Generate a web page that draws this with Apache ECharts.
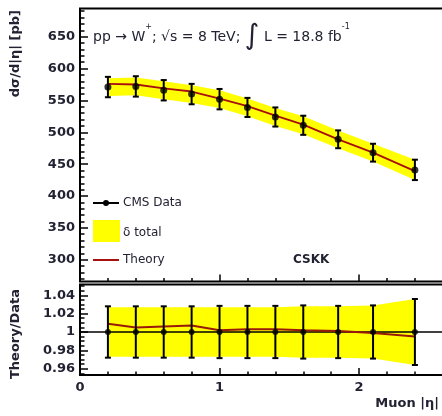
<!DOCTYPE html>
<html><head><meta charset="utf-8">
<script src="https://cdn.jsdelivr.net/npm/echarts@6/dist/echarts.min.js"></script>
<style>html,body{margin:0;padding:0;background:#fff}#c{width:442px;height:416px}</style>
</head><body><div id="c"></div>
<script>
// ---- data ----
const etaBins      = [0.2, 0.4, 0.6, 0.8, 1.0, 1.2, 1.4, 1.6, 1.85, 2.1, 2.4];
const dataXsec     = [571, 572, 566, 560, 552, 539, 524, 511, 489, 468, 441];
const dataErr      = [16, 16, 16, 16, 16, 15, 15, 15, 14, 14, 16];
const bandErr      = [14, 14, 14, 14, 14, 14, 14, 14, 14, 14, 16];
const theoryXsec   = [576, 575, 569, 564, 553, 541, 526, 512, 489, 468, 439];
const ratioData    = [1, 1, 1, 1, 1, 1, 1, 1, 1, 1, 1];
const ratioErr     = [0.028, 0.028, 0.028, 0.028, 0.0285, 0.0285, 0.0285, 0.029, 0.0285, 0.029, 0.036];
const ratioBandErr = [0.027, 0.027, 0.027, 0.027, 0.027, 0.027, 0.027, 0.028, 0.028, 0.029, 0.036];
const theoryRatio  = [1.009, 1.005, 1.006, 1.007, 1.002, 1.003, 1.003, 1.002, 1.001, 0.999, 0.995];
const unityLineX   = [0, 2.63];

const yMajorTicks = [300, 350, 400, 450, 500, 550, 600, 650];
const yMinorTicks = [270, 280, 290, 310, 320, 330, 340, 360, 370, 380, 390, 410, 420, 430, 440,
                     460, 470, 480, 490, 510, 520, 530, 540, 560, 570, 580, 590, 610, 620, 630, 640,
                     660, 670, 680, 690];
const rMajorTicks = [0.96, 0.98, 1, 1.02, 1.04];
const rMinorTicks = [0.955, 0.965, 0.97, 0.975, 0.985, 0.99, 0.995, 1.005, 1.01, 1.015,
                     1.025, 1.03, 1.035, 1.045, 1.05];
const xMajorTicks = [0, 1, 2];
const xMinorTicks = [0.2, 0.4, 0.6, 0.8, 1.2, 1.4, 1.6, 1.8, 2.2, 2.4, 2.6];

// ---- chart ----
const FONT = 'DejaVu Sans';
const TXT = '#222233';
const chart = echarts.init(document.getElementById('c'), null, {renderer: 'canvas'});

function bandRender(xs, ys, es, color) {
  return function (params, api) {
    if (params.dataIndex !== 0) return null;
    const pts = [];
    for (let i = 0; i < xs.length; i++) pts.push(api.coord([xs[i], ys[i] + es[i]]));
    for (let i = xs.length - 1; i >= 0; i--) pts.push(api.coord([xs[i], ys[i] - es[i]]));
    return {type: 'polygon', shape: {points: pts}, style: {fill: color}, silent: true};
  };
}
function errRender(params, api) {
  const x = api.value(0), y = api.value(1), e = api.value(2);
  const t = api.coord([x, y + e]), b = api.coord([x, y - e]);
  const w = 3, st = {stroke: '#000', lineWidth: 2};
  return {type: 'group', children: [
    {type: 'line', shape: {x1: t[0], y1: t[1], x2: b[0], y2: b[1]}, style: st},
    {type: 'line', shape: {x1: t[0] - w, y1: t[1], x2: t[0] + w, y2: t[1]}, style: st},
    {type: 'line', shape: {x1: b[0] - w, y1: b[1], x2: b[0] + w, y2: b[1]}, style: st}
  ]};
}

const gridBorder = {show: true, borderColor: '#000', borderWidth: 2, backgroundColor: 'transparent',
                    outerBoundsMode: 'none', containLabel: false};
const X_MAX = 2.63;
function xAx(grid, ticks, len, labels) {
  return {type: 'value', gridIndex: grid, min: 0, max: X_MAX, position: 'bottom',
    axisLine: {show: false}, splitLine: {show: false},
    axisTick: {show: true, inside: true, length: len, customValues: ticks, lineStyle: {color: '#000', width: 1.5}},
    axisLabel: labels ? {show: true, customValues: ticks, margin: 6, fontFamily: FONT, fontWeight: 'bold', fontSize: 13, color: TXT}
                      : {show: false}};
}
function yAx(grid, min, max, ticks, len, labels) {
  return {type: 'value', gridIndex: grid, min: min, max: max, position: 'left', offset: 0,
    axisLine: {show: false}, splitLine: {show: false},
    axisTick: {show: true, inside: true, length: len, customValues: ticks, lineStyle: {color: '#000', width: 1.5}},
    axisLabel: labels ? {show: true, customValues: ticks, margin: 5, fontFamily: FONT, fontWeight: 'bold', fontSize: 13, color: TXT}
                      : {show: false}};
}

const yMin = 265.8, yMax = 694.3, rMin = 0.9531, rMax = 1.0518;

const option = {
  animation: false,
  backgroundColor: '#fff',
  grid: [
    Object.assign({left: 80, top: 8.5, width: 367, height: 273}, gridBorder),
    Object.assign({left: 80, top: 284.5, width: 367, height: 90.5}, gridBorder)
  ],
  xAxis: [
    xAx(0, xMajorTicks, 7, false),
    xAx(0, xMinorTicks, 3.5, false),
    xAx(1, xMajorTicks, 7, true),
    xAx(1, xMinorTicks, 3.5, false)
  ],
  yAxis: [
    yAx(0, yMin, yMax, yMajorTicks, 8, true),
    yAx(0, yMin, yMax, yMinorTicks, 4.5, false),
    yAx(1, rMin, rMax, rMajorTicks, 8, true),
    yAx(1, rMin, rMax, rMinorTicks, 4.5, false)
  ],
  series: [
    {type: 'custom', xAxisIndex: 0, yAxisIndex: 0, z: 1,
     renderItem: bandRender(etaBins, dataXsec, bandErr, '#ffff00'),
     data: etaBins.map((x, i) => [x, dataXsec[i]])},
    {type: 'line', xAxisIndex: 0, yAxisIndex: 0, z: 2, symbol: 'none',
     lineStyle: {color: '#a81010', width: 1.8},
     data: etaBins.map((x, i) => [x, theoryXsec[i]])},
    {type: 'custom', xAxisIndex: 0, yAxisIndex: 0, z: 3, renderItem: errRender,
     data: etaBins.map((x, i) => [x, dataXsec[i], dataErr[i]])},
    {type: 'scatter', xAxisIndex: 0, yAxisIndex: 0, z: 4, symbol: 'circle', symbolSize: 7,
     itemStyle: {color: '#000'}, data: etaBins.map((x, i) => [x, dataXsec[i]])},

    {type: 'custom', xAxisIndex: 2, yAxisIndex: 2, z: 1,
     renderItem: bandRender(etaBins, ratioData, ratioBandErr, '#ffff00'),
     data: etaBins.map((x, i) => [x, ratioData[i]])},
    {type: 'line', xAxisIndex: 2, yAxisIndex: 2, z: 2, symbol: 'none',
     lineStyle: {color: '#000', width: 1.5},
     data: unityLineX.map(x => [x, 1])},
    {type: 'line', xAxisIndex: 2, yAxisIndex: 2, z: 3, symbol: 'none',
     lineStyle: {color: '#9a1a0a', width: 2},
     data: etaBins.map((x, i) => [x, theoryRatio[i]])},
    {type: 'custom', xAxisIndex: 2, yAxisIndex: 2, z: 4, renderItem: errRender,
     data: etaBins.map((x, i) => [x, ratioData[i], ratioErr[i]])},
    {type: 'scatter', xAxisIndex: 2, yAxisIndex: 2, z: 5, symbol: 'circle', symbolSize: 6,
     itemStyle: {color: '#000'}, data: etaBins.map((x, i) => [x, ratioData[i]])}
  ],
  graphic: [
    {type: 'text', x: 93, y: 37, z: 10, style: {
      text: '{a|pp → W}{s|+}{a|; √s = 8 TeV; }{i|∫}{a| L = 18.8 fb}{s|-1}',
      verticalAlign: 'middle', fill: TXT,
      rich: {
        a: {fontFamily: FONT, fontSize: 14, fill: TXT},
        s: {fontFamily: FONT, fontSize: 8, fill: TXT, verticalAlign: 'top', padding: [0, 0, 8, 0]},
        i: {fontFamily: FONT, fontSize: 28, fill: TXT}
      }}},
    {type: 'text', x: 16, y: 10, rotation: Math.PI / 2, z: 10, style: {
      text: 'dσ/d|η| [pb]', fontFamily: FONT, fontWeight: 'bold', fontSize: 13, fill: TXT,
      align: 'right', verticalAlign: 'middle'}},
    {type: 'text', x: 16, y: 334, rotation: Math.PI / 2, z: 10, style: {
      text: 'Theory/Data', fontFamily: FONT, fontWeight: 'bold', fontSize: 13, fill: TXT,
      align: 'center', verticalAlign: 'middle'}},
    {type: 'text', x: 439, y: 404, z: 10, style: {
      text: 'Muon |η|', fontFamily: FONT, fontWeight: 'bold', fontSize: 13, fill: TXT,
      align: 'right', verticalAlign: 'middle'}},
    // legend
    {type: 'line', z: 10, shape: {x1: 93, y1: 203, x2: 119, y2: 203}, style: {stroke: '#000', lineWidth: 2}},
    {type: 'circle', z: 10, shape: {cx: 106, cy: 203, r: 3}, style: {fill: '#000'}},
    {type: 'text', x: 123, y: 203, z: 10, style: {text: 'CMS Data', fontFamily: FONT, fontSize: 12, fill: TXT, verticalAlign: 'middle'}},
    {type: 'rect', z: 10, shape: {x: 93, y: 220, width: 27, height: 22}, style: {fill: '#ffff00'}},
    {type: 'text', x: 123, y: 233, z: 10, style: {text: 'δ total', fontFamily: FONT, fontSize: 12, fill: TXT, verticalAlign: 'middle'}},
    {type: 'line', z: 10, shape: {x1: 93, y1: 260, x2: 119, y2: 260}, style: {stroke: '#a81010', lineWidth: 2}},
    {type: 'text', x: 123, y: 260, z: 10, style: {text: 'Theory', fontFamily: FONT, fontSize: 12, fill: TXT, verticalAlign: 'middle'}},
    {type: 'text', x: 293, y: 260, z: 10, style: {text: 'CSKK', fontFamily: FONT, fontWeight: 'bold', fontSize: 12, fill: TXT, verticalAlign: 'middle'}}
  ]
};
chart.setOption(option);
</script></body></html>
